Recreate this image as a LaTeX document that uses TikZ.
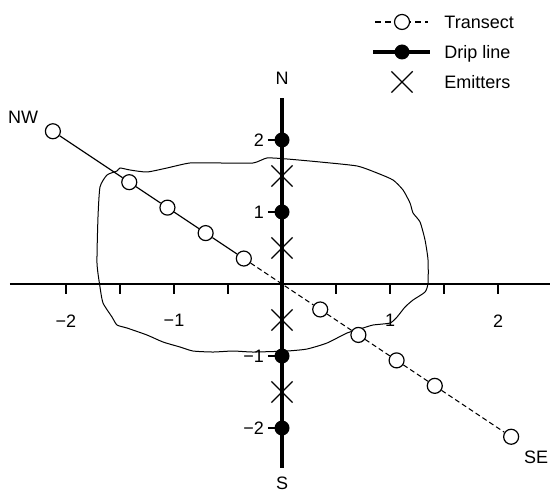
\documentclass[tikz,border=0pt]{standalone}
\usepackage{fontspec}
\setmainfont{Liberation Sans}
\usetikzlibrary{shapes.misc}
\tikzstyle{open}=[circle, draw=black, fill=white, line width=0.6pt, minimum size=7.5pt, inner sep=0pt]
\tikzstyle{dot}=[circle, fill=black, minimum size=7.5pt, inner sep=0pt]
\tikzstyle{emitter}=[cross out, draw=black, line width=0.6pt, minimum size=10pt, inner sep=0pt]
\tikzstyle{lbl}=[inner sep=0pt, font=\fontsize{9}{10}\selectfont]
\tikzstyle{transline}=[line width=0.6pt]
\tikzstyle{transdash}=[line width=0.55pt, dash pattern=on 2.5pt off 1.6pt]
\tikzstyle{dripline}=[line width=1.6pt]

\begin{document}
\begin{tikzpicture}[x=54pt, y=36pt]
\useasboundingbox (-2.611,-2.875) rectangle (2.481,3.944);
% wetted area, traced in pixels
\begin{scope}[shift={(-141pt,142pt)}, x=0.5pt, y=-0.5pt]
\draw[line width=0.5pt] plot[smooth cycle, tension=0.35] coordinates {
  (100,187) (107,175) (117,171) (120,168) (130,170) (147,172) (167,168)
  (190,163) (220,163) (253,163) (267,158) (287,159) (320,162) (357,166)
  (377,173) (393,180) (403,190) (410,203) (413,213) (420,222) (425,240)
  (428,260) (428,283) (425,292) (413,300) (405,307) (397,317) (390,323)
  (373,325) (363,328) (347,333) (327,343) (307,349) (287,351) (253,352)
  (233,351) (213,352) (193,351) (180,347) (163,342) (147,335) (127,328)
  (117,325) (112,317) (103,303) (100,287) (97,263) (98,217)};
\end{scope}
% axes
\coordinate (xl) at (-2.52,0);
\coordinate (xr) at (2.481,0);
\draw[line width=0.6pt] (xl) -- (xr);
\foreach \x in {-2,-1.5,-1,-0.5,0.5,1,1.5,2}{
  \draw[line width=0.6pt] (\x,0) -- (\x,-0.139);
}
\foreach \x/\t in {-2/−2,-1/−1,1/1,2/2}{
  \node[lbl] (xt\x) at (\x,-0.51) {\t};
}
\foreach \y/\t in {2/2,1/1,-1/−1,-2/−2}{
  \draw[line width=0.6pt] (-0.13,\y) -- (0,\y);
  \node[lbl, anchor=east] (yt\y) at (-0.165,\y) {\t};
}
% drip line
\coordinate (ntop) at (0,2.583);
\coordinate (sbot) at (0,-2.556);
\draw[dripline] (ntop) -- (sbot);
\node[lbl] (n) at (0,2.861) {N};
\node[lbl] (s) at (0,-2.77) {S};
\foreach \y in {2,1,-1,-2}{
  \node[dot] (d\y) at (0,\y) {};
}
\foreach \y [count=\i] in {1.5,0.5,-0.5,-1.5}{
  \node[emitter] (e\i) at (0,\y) {};
}
% transect
\foreach \r [count=\i] in {0.3536,0.7071,1.0607,1.4142,2.1213}{
  \node[open] (nw\i) at (-\r,\r) {};
  \node[open] (se\i) at (\r,-\r) {};
}
\draw[transline] (nw5) -- (nw4) -- (nw3) -- (nw2) -- (nw1);
\draw[transdash] (nw1) -- (se1) -- (se2) -- (se3) -- (se4) -- (se5);
\node[lbl] (nwlbl) at (-2.398,2.319) {NW};
\node[lbl] (selbl) at (2.352,-2.403) {SE};
% legend
\coordinate (la) at (0.861,3.639);
\coordinate (lb) at (1.352,3.639);
\draw[transdash, dash pattern=on 3pt off 2pt] (la) -- (lb);
\node[open] (lopen) at (1.111,3.639) {};
\node[lbl, anchor=base west] (ltrans) at (1.5,3.55) {Transect};
\coordinate (lc) at (0.843,3.222);
\coordinate (ld) at (1.370,3.222);
\draw[dripline] (lc) -- (ld);
\node[dot] (ldot) at (1.111,3.222) {};
\node[lbl, anchor=base west] (ldrip) at (1.5,3.133) {Drip line};
\node[emitter] (lcross) at (1.111,2.806) {};
\node[lbl, anchor=base west] (lemit) at (1.5,2.717) {Emitters};
\end{tikzpicture}
\end{document}
